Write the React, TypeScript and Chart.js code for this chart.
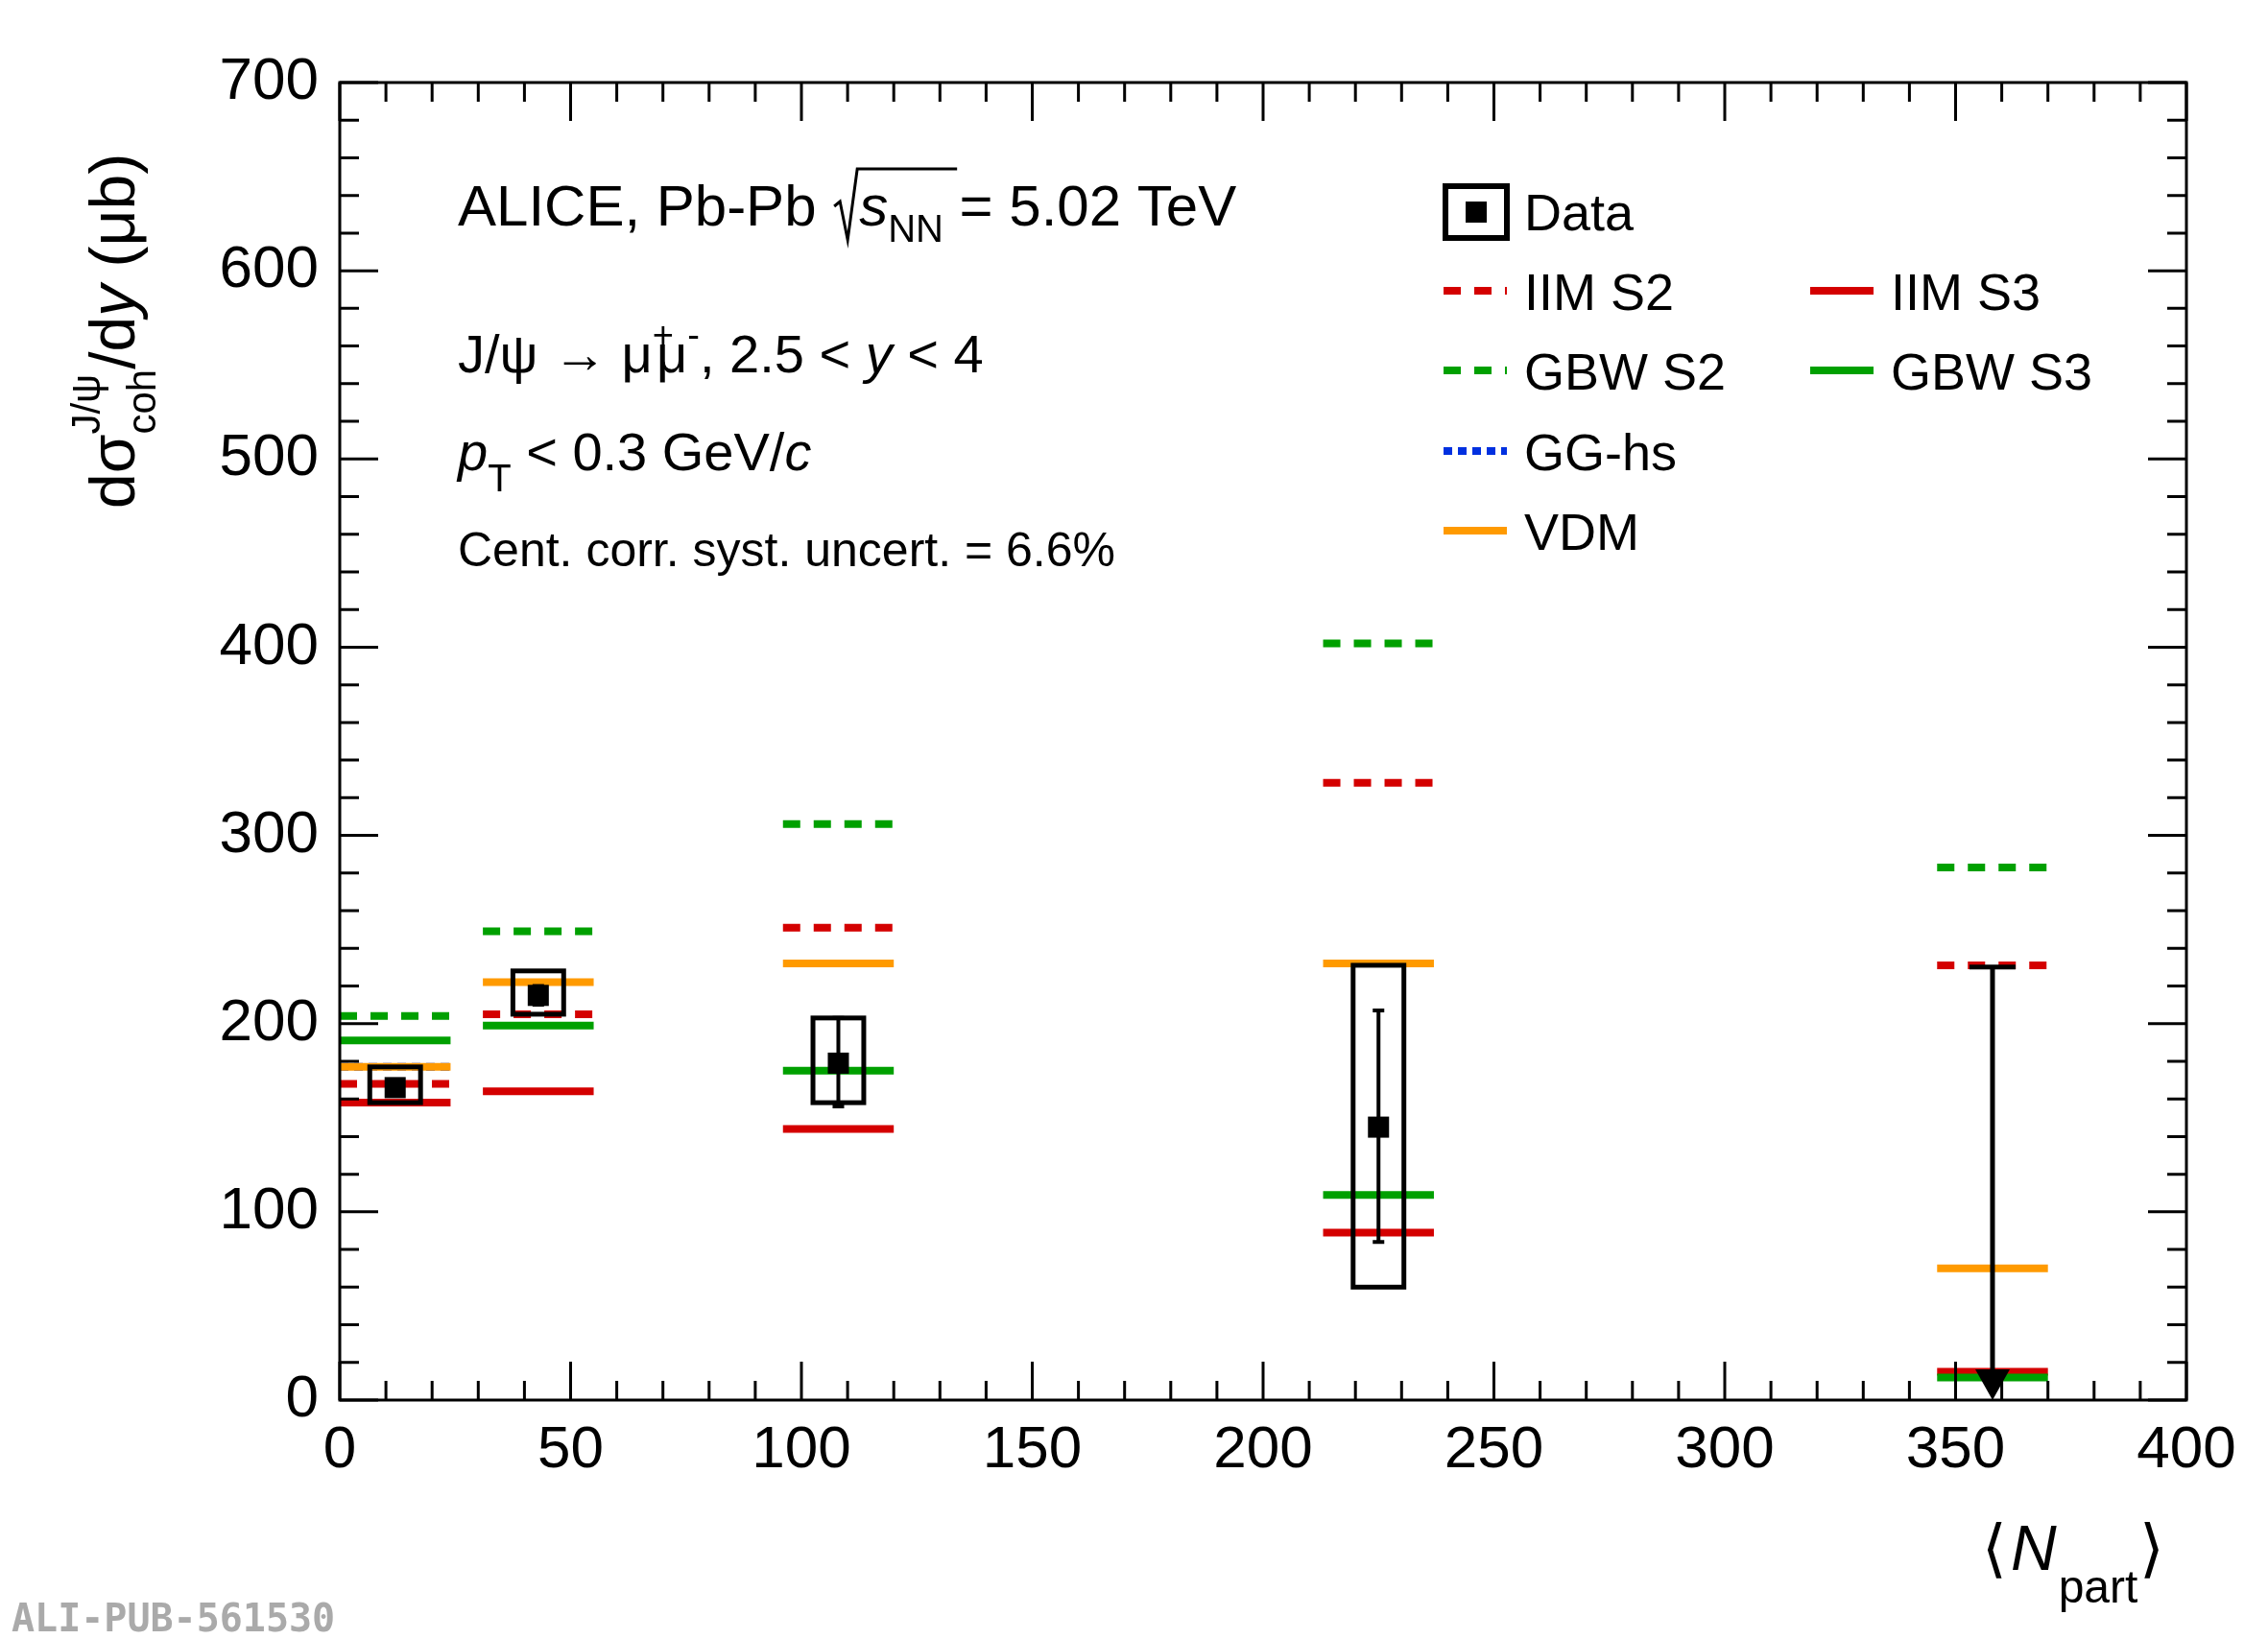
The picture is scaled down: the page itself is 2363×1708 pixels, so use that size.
import React, { useEffect, useRef } from "react";
import { Chart, registerables } from "chart.js";
Chart.register(...registerables);

const centers = [12, 43, 108, 225, 358];
const dataY = [166, 215, 179, 145];
const statLo = [162, 210, 156, 84];
const statHi = [170, 220, 203, 207];
const systLo = [158, 205, 158, 60];
const systHi = [177, 228, 203, 231];
const upperLimit = 230;
const iimS2 = [168, 205, 251, 328, 231];
const iimS3 = [158, 164, 144, 89, 15];
const gbwS2 = [204, 249, 306, 402, 283];
const gbwS3 = [191, 199, 175, 109, 12];
const gghs = [177, null, null, null, null];
const vdm = [177, 222, 232, 232, 70];

const RED = "#d40000", GREEN = "#00a000", BLUE = "#0030e0", ORANGE = "#ff9a00";
const models = [
  { name: "VDM", vals: vdm, color: ORANGE, dash: [] as number[] },
  { name: "GBW S3", vals: gbwS3, color: GREEN, dash: [] },
  { name: "IIM S3", vals: iimS3, color: RED, dash: [] },
  { name: "GBW S2", vals: gbwS2, color: GREEN, dash: [18, 14] },
  { name: "IIM S2", vals: iimS2, color: RED, dash: [18, 14] },
  { name: "GG-hs", vals: gghs, color: BLUE, dash: [9, 6] },
];
const FONT = "'Liberation Sans', Arial, sans-serif";

const overlay = {
  id: "overlay",
  afterDatasetsDraw(chart: any) {
    const { ctx, scales } = chart;
    const xs = scales.x, ys = scales.y;
    const ca = chart.chartArea;
    ctx.save();
    ctx.strokeStyle = "#000";
    ctx.lineWidth = 5;
    // syst boxes & stat errors
    dataY.forEach((v, i) => {
      const cx = xs.getPixelForValue(centers[i]);
      const hw = xs.getPixelForValue(5.5) - xs.getPixelForValue(0);
      const t = ys.getPixelForValue(systHi[i]), b = ys.getPixelForValue(systLo[i]);
      ctx.strokeRect(cx - hw, t, 2 * hw, b - t);
      const st = ys.getPixelForValue(statHi[i]), sb = ys.getPixelForValue(statLo[i]);
      ctx.lineWidth = 4;
      ctx.beginPath();
      ctx.moveTo(cx, st); ctx.lineTo(cx, sb);
      ctx.moveTo(cx - 6, st); ctx.lineTo(cx + 6, st);
      ctx.moveTo(cx - 6, sb); ctx.lineTo(cx + 6, sb);
      ctx.stroke();
      ctx.lineWidth = 5;
      const s = 22;
      ctx.fillStyle = "#000";
      ctx.fillRect(cx - s / 2, ys.getPixelForValue(v) - s / 2, s, s);
    });
    // upper limit
    const ux = xs.getPixelForValue(centers[4]);
    const uy = ys.getPixelForValue(upperLimit), u0 = ys.getPixelForValue(0);
    ctx.lineWidth = 5;
    ctx.beginPath();
    ctx.moveTo(ux - 24, uy); ctx.lineTo(ux + 24, uy);
    ctx.moveTo(ux, uy); ctx.lineTo(ux, u0 - 20);
    ctx.stroke();
    ctx.beginPath();
    ctx.moveTo(ux - 18, u0 - 32); ctx.lineTo(ux + 18, u0 - 32); ctx.lineTo(ux, u0); ctx.closePath();
    ctx.fill();
    // frame & ticks
    ctx.lineWidth = 3;
    ctx.strokeRect(ca.left, ca.top, ca.right - ca.left, ca.bottom - ca.top);
    ctx.beginPath();
    for (let v = 0; v <= 400; v += 10) {
      const p = xs.getPixelForValue(v);
      const L = v % 50 === 0 ? 40 : 20;
      ctx.moveTo(p, ca.bottom); ctx.lineTo(p, ca.bottom - L);
      ctx.moveTo(p, ca.top); ctx.lineTo(p, ca.top + L);
    }
    for (let v = 0; v <= 700; v += 20) {
      const p = ys.getPixelForValue(v);
      const L = v % 100 === 0 ? 40 : 20;
      ctx.moveTo(ca.left, p); ctx.lineTo(ca.left + L, p);
      ctx.moveTo(ca.right, p); ctx.lineTo(ca.right - L, p);
    }
    ctx.stroke();
    // texts
    ctx.fillStyle = "#000";
    ctx.textBaseline = "alphabetic";
    ctx.textAlign = "left";
    const t = (s: string, x: number, y: number, size: number, style = "") => {
      ctx.font = `${style} ${size}px ${FONT}`;
      ctx.fillText(s, x, y);
      return x + ctx.measureText(s).width;
    };
    let x = t("ALICE, Pb-Pb ", 477, 235, 60);
    // sqrt sign
    ctx.lineWidth = 3;
    ctx.beginPath();
    ctx.moveTo(x + 2, 215); ctx.lineTo(x + 8, 210); ctx.lineTo(x + 16, 250); ctx.lineTo(x + 26, 176); ctx.lineTo(x + 130, 176);
    ctx.stroke();
    x = t("s", x + 28, 235, 60, "italic");
    x = t("NN", x, 252, 40);
    t(" = 5.02 TeV", x, 235, 60);
    x = t("J/ψ → μ", 477, 388, 56);
    x = t("+", x, 362, 38);
    x = t("μ", x - 18, 388, 56);
    x = t("-", x, 362, 38);
    x = t(", 2.5 < ", x, 388, 56);
    x = t("y", x, 388, 56, "italic");
    t(" < 4", x, 388, 56);
    x = t("p", 477, 490, 56, "italic");
    x = t("T", x, 512, 40);
    x = t(" < 0.3 GeV/", x, 490, 56);
    t("c", x, 490, 56, "italic");
    t("Cent. corr. syst. uncert. = 6.6%", 477, 590, 50);
    // legend
    ctx.lineWidth = 6;
    ctx.strokeRect(1506, 194, 64, 54);
    ctx.fillRect(1527, 210, 22, 22);
    t("Data", 1588, 240, 54);
    const leg = [
      { n: "IIM S2", c: RED, d: [18, 14], x: 1504, y: 303 },
      { n: "GBW S2", c: GREEN, d: [18, 14], x: 1504, y: 386 },
      { n: "GG-hs", c: BLUE, d: [9, 6], x: 1504, y: 470 },
      { n: "VDM", c: ORANGE, d: [], x: 1504, y: 553 },
      { n: "IIM S3", c: RED, d: [], x: 1886, y: 303 },
      { n: "GBW S3", c: GREEN, d: [], x: 1886, y: 386 },
    ];
    leg.forEach((l) => {
      ctx.strokeStyle = l.c; ctx.lineWidth = 8; ctx.setLineDash(l.d);
      ctx.beginPath(); ctx.moveTo(l.x, l.y); ctx.lineTo(l.x + 66, l.y); ctx.stroke();
      ctx.setLineDash([]);
      t(l.n, l.x + 84, l.y + 20, 54);
    });
    // axis titles
    x = t("⟨", 2065, 1636, 66);
    x = t("N", x + 4, 1636, 66, "italic");
    x = t("part", x + 2, 1670, 48);
    t("⟩", x + 2, 1636, 66);
    ctx.save();
    ctx.translate(140, 530);
    ctx.rotate(-Math.PI / 2);
    x = t("dσ", 0, 0, 66);
    t("J/ψ", x, -36, 42);
    x = t("coh", x, 22, 42);
    x = t("/d", x, 0, 66);
    x = t("y", x, 0, 66, "italic");
    t(" (μb)", x, 0, 66);
    ctx.restore();
    ctx.fillStyle = "#aaa";
    ctx.font = `bold 40px 'DejaVu Sans Mono', 'Liberation Mono', monospace`;
    ctx.fillText("ALI-PUB-561530", 12, 1700);
    ctx.restore();
  },
};

export default function App() {
  const ref = useRef<HTMLCanvasElement>(null);
  useEffect(() => {
    document.body.style.margin = "0";
    const datasets: any[] = [];
    models.forEach((m) => {
      m.vals.forEach((v, i) => {
        if (v == null) return;
        datasets.push({
          type: "line",
          data: [{ x: centers[i] - 12, y: v }, { x: centers[i] + 12, y: v }],
          borderColor: m.color,
          borderWidth: 8,
          borderDash: m.dash,
          pointRadius: 0,
          showLine: true,
        });
      });
    });
    const chart = new Chart(ref.current!, {
      type: "scatter",
      data: { datasets },
      options: {
        animation: false,
        responsive: false,
        events: [],
        layout: { padding: { top: 86, right: 85, left: 0, bottom: 0 } },
        plugins: { legend: { display: false }, tooltip: { enabled: false } },
        scales: {
          x: {
            type: "linear", min: 0, max: 400,
            grid: { display: false }, border: { display: false },
            ticks: { stepSize: 50, color: "#000", font: { size: 62, family: FONT }, padding: 8 },
            afterFit: (s: any) => { s.height = 249; },
          },
          y: {
            type: "linear", min: 0, max: 700,
            grid: { display: false }, border: { display: false },
            ticks: { stepSize: 100, color: "#000", font: { size: 62, family: FONT }, padding: 14 },
            afterFit: (s: any) => { s.width = 354; },
          },
        },
      },
      plugins: [overlay],
    });
    return () => chart.destroy();
  }, []);
  return <canvas ref={ref} width={2363} height={1708} style={{ display: "block" }} />;
}
